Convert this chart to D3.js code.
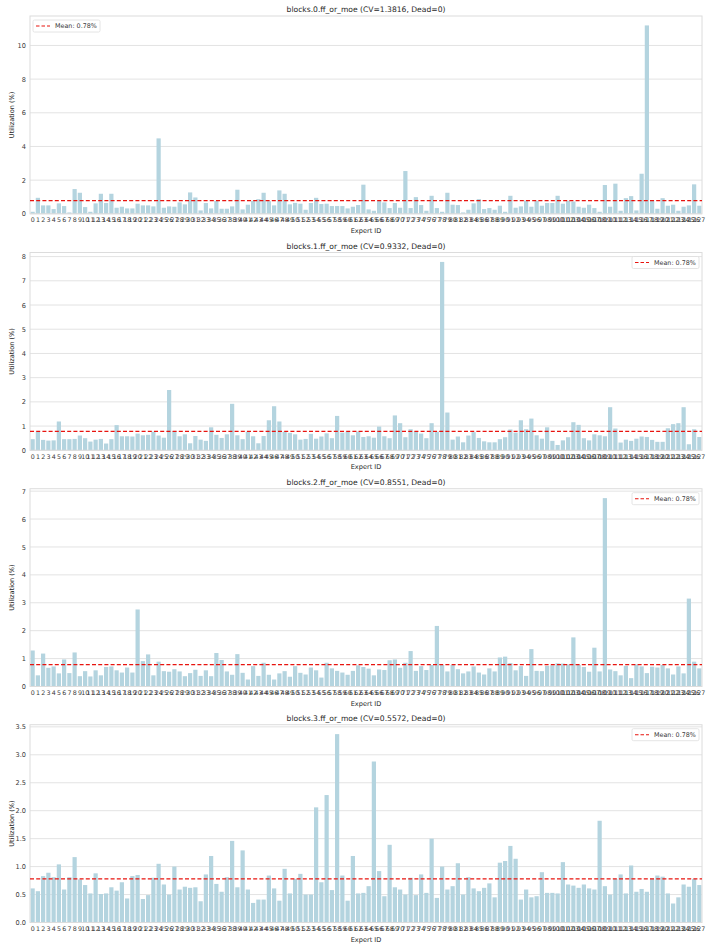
<!DOCTYPE html>
<html>
<head>
<meta charset="utf-8">
<script src="https://cdn.jsdelivr.net/npm/d3@7/dist/d3.min.js"></script>
<style>
  body { margin: 0; background: #fff; }
  svg text { font-family: "DejaVu Sans", sans-serif; fill: #262626; }
</style>
</head>
<body>
<div id="chart"></div>
<script>
// expert ids along the x axis
var expertIds = d3.range(128);

var panelTitles = [
  "blocks.0.ff_or_moe (CV=1.3816, Dead=0)",
  "blocks.1.ff_or_moe (CV=0.9332, Dead=0)",
  "blocks.2.ff_or_moe (CV=0.8551, Dead=0)",
  "blocks.3.ff_or_moe (CV=0.5572, Dead=0)"
];

// utilization (%) per expert
var block0Util = [
  0.12, 0.95, 0.5, 0.5, 0.28, 0.62, 0.46, 0.08, 1.47, 1.25,
  0.4, 0.12, 0.62, 1.19, 0.64, 1.19, 0.36, 0.42, 0.32, 0.32,
  0.6, 0.5, 0.5, 0.44, 4.48, 0.36, 0.44, 0.42, 0.68, 0.56,
  1.27, 0.97, 0.2, 0.64, 0.32, 0.77, 0.3, 0.3, 0.44, 1.43,
  0.26, 0.54, 0.77, 0.87, 1.25, 0.75, 0.5, 1.39, 1.19, 0.56,
  0.65, 0.6, 0.24, 0.64, 0.95, 0.58, 0.6, 0.46, 0.46, 0.46,
  0.32, 0.42, 0.52, 1.73, 0.26, 0.18, 0.81, 0.68, 0.34, 0.64,
  0.36, 2.54, 0.34, 0.99, 0.52, 0.18, 1.07, 0.34, 0.12, 1.25,
  0.54, 0.52, 0.08, 0.24, 0.62, 0.87, 0.28, 0.34, 0.24, 0.48,
  0.12, 1.07, 0.36, 0.44, 0.79, 0.42, 0.77, 0.48, 0.64, 0.64,
  1.07, 0.6, 0.77, 0.73, 0.42, 0.36, 0.54, 0.34, 0.12, 1.71,
  0.42, 1.79, 0.18, 0.93, 1.05, 0.2, 2.38, 11.19, 0.81, 0.3,
  0.93, 0.48, 0.54, 0.18, 0.42, 0.5, 1.75, 0.48
];
var block1Util = [
  0.46, 0.77, 0.43, 0.4, 0.41, 1.19, 0.46, 0.46, 0.47, 0.61,
  0.5, 0.36, 0.44, 0.47, 0.28, 0.46, 1.04, 0.58, 0.58, 0.57,
  0.69, 0.62, 0.64, 0.77, 0.61, 0.52, 2.49, 0.8, 0.58, 0.66,
  0.29, 0.59, 0.44, 0.39, 0.95, 0.64, 0.51, 0.66, 1.92, 0.62,
  0.46, 0.77, 0.58, 0.29, 0.59, 1.24, 1.82, 1.19, 0.77, 0.72,
  0.66, 0.44, 0.47, 0.68, 0.48, 0.57, 0.7, 0.5, 1.42, 0.73,
  0.77, 0.62, 0.77, 0.55, 0.58, 0.52, 0.98, 0.58, 0.5, 1.44,
  1.12, 0.54, 0.87, 0.79, 0.69, 0.5, 1.12, 0.77, 7.78, 1.56,
  0.44, 0.57, 0.33, 0.61, 0.75, 0.51, 0.37, 0.33, 0.33, 0.46,
  0.54, 0.86, 0.73, 1.24, 0.87, 1.31, 0.62, 0.48, 0.95, 0.39,
  0.22, 0.41, 0.54, 1.16, 1.05, 0.5, 0.41, 0.66, 0.62, 0.58,
  1.78, 0.9, 0.32, 0.44, 0.39, 0.48, 0.57, 0.55, 0.43, 0.35,
  0.35, 0.91, 1.08, 1.12, 1.78, 0.25, 0.87, 0.55
];
var block2Util = [
  1.29, 0.4, 1.18, 0.67, 0.72, 0.47, 0.97, 0.48, 1.22, 0.37,
  0.55, 0.36, 0.58, 0.4, 0.7, 0.72, 0.58, 0.5, 0.68, 0.5,
  2.76, 0.91, 1.15, 0.4, 0.89, 0.55, 0.53, 0.62, 0.54, 0.37,
  0.48, 0.6, 0.38, 0.58, 0.37, 1.2, 0.95, 0.54, 0.42, 1.16,
  0.49, 0.25, 0.73, 0.38, 0.85, 0.42, 0.25, 0.47, 0.55, 0.35,
  0.73, 0.49, 0.43, 0.68, 0.58, 0.32, 0.85, 0.65, 0.56, 0.5,
  0.42, 0.56, 0.76, 0.7, 0.64, 0.4, 0.61, 0.59, 0.94, 0.97,
  0.67, 0.85, 1.27, 0.56, 0.73, 0.59, 0.77, 2.17, 0.77, 0.54,
  0.77, 0.62, 0.47, 0.54, 0.72, 0.5, 0.43, 0.65, 0.54, 1.04,
  1.07, 0.84, 0.58, 0.73, 0.38, 1.34, 0.56, 0.55, 0.74, 0.76,
  0.83, 0.82, 0.79, 1.76, 0.77, 0.7, 0.53, 1.39, 0.54, 6.75,
  0.61, 0.55, 0.4, 0.74, 0.3, 0.79, 0.72, 0.48, 0.71, 0.68,
  0.77, 0.65, 0.43, 0.72, 0.47, 3.15, 0.89, 0.65
];
var block3Util = [
  0.61, 0.56, 0.83, 0.89, 0.81, 1.04, 0.59, 0.81, 1.17, 0.77,
  0.67, 0.52, 0.88, 0.51, 0.52, 0.63, 0.57, 0.72, 0.43, 0.83,
  0.85, 0.42, 0.49, 0.8, 1.05, 0.68, 0.5, 1.0, 0.59, 0.64,
  0.62, 0.63, 0.38, 0.86, 1.19, 0.69, 0.55, 0.81, 1.46, 0.63,
  1.29, 0.59, 0.35, 0.41, 0.41, 0.84, 0.61, 0.39, 0.96, 0.52,
  0.78, 0.87, 0.5, 0.5, 2.06, 0.72, 2.28, 0.58, 3.37, 0.84,
  0.39, 1.19, 0.52, 0.53, 0.65, 2.88, 0.92, 0.47, 1.39, 0.63,
  0.59, 0.5, 0.8, 0.49, 0.86, 0.53, 1.5, 0.44, 1.0, 0.59,
  0.65, 1.06, 0.5, 0.81, 0.61, 0.56, 0.62, 0.7, 0.45, 1.07,
  1.1, 1.37, 1.14, 0.41, 0.59, 0.45, 0.47, 0.9, 0.53, 0.53,
  0.52, 1.08, 0.68, 0.66, 0.62, 0.68, 0.61, 0.59, 1.82, 0.65,
  0.5, 0.78, 0.86, 0.52, 1.02, 0.55, 0.6, 0.55, 0.78, 0.84,
  0.82, 0.52, 0.34, 0.45, 0.68, 0.64, 0.78, 0.67
];

var meanUtil = 0.78125;
var meanLabel = "Mean: 0.78%";

// y tick values per panel
var yTicks0 = [0, 2, 4, 6, 8, 10];
var yTicks1 = [0, 1, 2, 3, 4, 5, 6, 7, 8];
var yTicks2 = [0, 1, 2, 3, 4, 5, 6, 7];
var yTicks3 = [0, 0.5, 1.0, 1.5, 2.0, 2.5, 3.0, 3.5];

var panels = [
  { title: panelTitles[0], values: block0Util, ticks: yTicks0, fmt: d3.format("d"), legend: "left" },
  { title: panelTitles[1], values: block1Util, ticks: yTicks1, fmt: d3.format("d"), legend: "right" },
  { title: panelTitles[2], values: block2Util, ticks: yTicks2, fmt: d3.format("d"), legend: "right" },
  { title: panelTitles[3], values: block3Util, ticks: yTicks3, fmt: d3.format(".1f"), legend: "right" }
];

var svgWidth = 711, svgHeight = 949;
var left = 30, right = 702;
var panelTops = [16, 252.5, 488.7, 724.7];
var plotHeight = 197.8;

var barColor = "#b4d4df";
var gridColor = "#e3e3e3";

var svg = d3.select("#chart").append("svg")
  .attr("width", svgWidth)
  .attr("height", svgHeight);

var x = d3.scaleBand()
  .domain(expertIds)
  .range([left, right])
  .paddingInner(0.2)
  .paddingOuter(0.1);

panels.forEach(function(p, k) {
  var top = panelTops[k];
  var bottom = top + plotHeight;
  var g = svg.append("g");

  var y = d3.scaleLinear()
    .domain([0, d3.max(p.values) * 1.05])
    .range([bottom, top]);

  // grid lines
  g.append("g")
    .selectAll("line")
    .data(p.ticks)
    .enter()
    .append("line")
    .attr("x1", left)
    .attr("x2", right)
    .attr("y1", d => y(d))
    .attr("y2", d => y(d))
    .attr("stroke", gridColor)
    .attr("stroke-width", 1);

  // y axis
  var yAxis = g.append("g")
    .attr("transform", `translate(${left},0)`)
    .call(d3.axisLeft(y).tickValues(p.ticks).tickFormat(p.fmt).tickSize(0).tickPadding(4));
  yAxis.select(".domain").remove();
  yAxis.selectAll("text").style("font-size", "6.6px").style("fill", "#3a3a3a");

  // bars
  g.append("g")
    .selectAll("rect")
    .data(p.values)
    .enter()
    .append("rect")
    .attr("x", (d, i) => x(expertIds[i]))
    .attr("width", x.bandwidth())
    .attr("y", d => y(d))
    .attr("height", d => bottom - y(d))
    .attr("fill", barColor);

  // x axis
  var xAxis = g.append("g")
    .attr("transform", `translate(0,${bottom})`)
    .call(d3.axisBottom(x).tickSize(0).tickPadding(4));
  xAxis.select(".domain").remove();
  xAxis.selectAll("text").style("font-size", "6.3px").style("fill", "#3a3a3a");

  // frame
  g.append("rect")
    .attr("x", left)
    .attr("y", top)
    .attr("width", right - left)
    .attr("height", plotHeight)
    .attr("fill", "none")
    .attr("stroke", "#dcdcdc")
    .attr("stroke-width", 1);

  // mean line
  g.append("line")
    .attr("x1", left)
    .attr("x2", right)
    .attr("y1", y(meanUtil))
    .attr("y2", y(meanUtil))
    .attr("stroke", "#e8140f")
    .attr("stroke-width", 1.3)
    .attr("stroke-dasharray", "4,2.2");

  // title
  g.append("text")
    .attr("x", (left + right) / 2)
    .attr("y", top - 4)
    .attr("text-anchor", "middle")
    .style("font-size", "7.6px")
    .text(p.title);

  // axis labels
  g.append("text")
    .attr("x", (left + right) / 2)
    .attr("y", bottom + 19)
    .attr("text-anchor", "middle")
    .style("font-size", "6.6px")
    .text("Expert ID");

  g.append("text")
    .attr("transform", `translate(14,${(top + bottom) / 2}) rotate(-90)`)
    .attr("text-anchor", "middle")
    .style("font-size", "6.6px")
    .text("Utilization (%)");

  // legend
  var lw = 67, lh = 12;
  var lx = p.legend === "left" ? left + 3 : right - 3 - lw;
  var ly = top + 4;
  var leg = g.append("g").attr("transform", `translate(${lx},${ly})`);
  leg.append("rect")
    .attr("width", lw)
    .attr("height", lh)
    .attr("rx", 1.5)
    .attr("fill", "#fff")
    .attr("fill-opacity", 0.85)
    .attr("stroke", "#dddddd")
    .attr("stroke-width", 0.8);
  leg.append("line")
    .attr("x1", 3)
    .attr("x2", 17)
    .attr("y1", lh / 2)
    .attr("y2", lh / 2)
    .attr("stroke", "#e8140f")
    .attr("stroke-width", 1.1)
    .attr("stroke-dasharray", "3.5,2");
  leg.append("text")
    .attr("x", 22)
    .attr("y", lh / 2 + 2.3)
    .style("font-size", "6.4px")
    .style("fill", "#3a3a3a")
    .text(meanLabel);
});
</script>
</body>
</html>
